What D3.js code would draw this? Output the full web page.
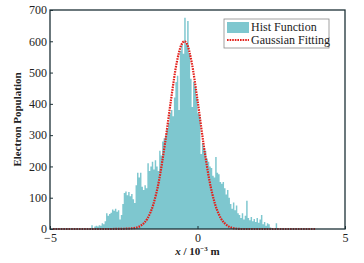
<!DOCTYPE html>
<html>
<head>
<meta charset="utf-8">
<script src="https://cdn.jsdelivr.net/npm/d3@7"></script>
<style>
  body { margin: 0; background: #fff; }
  svg text { font-family: "Liberation Serif", "Times New Roman", serif; }
</style>
</head>
<body>
<div id="chart"></div>
<script>
// histogram: bins of width 0.05, left edges start at binStart
const binStart = -3.6;
const binWidth = 0.05;
const histCounts = [
  12, 0, 8, 10, 8, 12, 10, 18, 15, 25,
  50, 42, 48, 52, 62, 58, 65, 55, 60, 30,
  45, 80, 115, 120, 108, 118, 105, 112, 95, 83,
  140, 180, 165, 180, 135, 125, 140, 130, 210, 185,
  200, 215, 190, 220, 200, 185, 250, 235, 280, 290,
  300, 320, 340, 370, 380, 360, 420, 470, 490, 380,
  570, 590, 560, 675, 590, 665, 560, 480, 390, 470,
  455, 420, 370, 360, 240, 275, 260, 250, 225, 215,
  200, 195, 170, 165, 230, 180, 175, 150, 145, 150,
  130, 110, 125, 100, 80, 65, 85, 60, 75, 50,
  45, 35, 50, 30, 42, 90, 35, 28, 38, 25,
  32, 22, 35, 20, 30, 45, 15, 22, 10, 18,
  15, 5, 3, 0, 0, 18, 3, 0, 2
];

// gaussian fitting curve
const fitX = [-4.9, -3.0, -2.4, -2.1, -1.9, -1.7, -1.5, -1.3, -1.1, -0.9, -0.7, -0.55, -0.45,
              -0.35, -0.2, 0.0, 0.2, 0.4, 0.6, 0.8, 1.0, 1.2, 1.5, 2.0, 4.0];
const fitY = [0, 0, 1, 4, 12, 33, 78, 157, 275, 412, 534, 588, 600,
              590, 534, 412, 275, 157, 78, 33, 12, 3, 0, 0, 0];

const xTicks = [-5, 0, 5];
const yTicks = [0, 100, 200, 300, 400, 500, 600, 700];
const legendLabels = ["Hist Function", "Gaussian Fitting"];

const width = 364, height = 263;
const margin = {top: 10, right: 19, bottom: 34, left: 50};

const x = d3.scaleLinear().domain([-5, 5]).range([margin.left, width - margin.right]);
const y = d3.scaleLinear().domain([0, 700]).range([height - margin.bottom, margin.top]);

const svg = d3.create("svg")
    .attr("width", width)
    .attr("height", height)
    .attr("viewBox", [0, 0, width, height]);

// bars drawn as one stepped area so neighbouring bins don't leave hairline gaps
const bins = histCounts.map((c, i) => ({x0: binStart + i * binWidth, c}));
bins.push({x0: binStart + histCounts.length * binWidth, c: 0});

const histArea = d3.area()
    .x(d => x(d.x0))
    .y0(y(0))
    .y1(d => y(d.c))
    .curve(d3.curveStepAfter);

svg.append("path")
    .datum(bins)
    .attr("fill", "#7ec7cf")
    .attr("d", histArea);

const line = d3.line()
    .x((d, i) => x(fitX[i]))
    .y(d => y(d))
    .curve(d3.curveMonotoneX);

svg.append("path")
    .datum(fitY)
    .attr("fill", "none")
    .attr("stroke", "#e3201b")
    .attr("stroke-width", 2.2)
    .attr("stroke-dasharray", "1.6,1")
    .attr("d", line);

// axes
const xAxis = g => g
    .attr("transform", `translate(0,${y(0)})`)
    .call(d3.axisBottom(x).tickValues(xTicks).tickSize(-3).tickPadding(4)
          .tickFormat(d => d < 0 ? "\u2212" + Math.abs(d) : d))
    .call(g => g.select(".domain").remove())
    .call(g => g.selectAll(".tick line").attr("stroke", "#1d3036"))
    .call(g => g.selectAll("text").attr("font-size", 12).attr("fill", "#222"));

const yAxis = g => g
    .attr("transform", `translate(${margin.left},0)`)
    .call(d3.axisLeft(y).tickValues(yTicks).tickSize(-3).tickPadding(3))
    .call(g => g.select(".domain").remove())
    .call(g => g.selectAll(".tick line").attr("stroke", "#1d3036"))
    .call(g => g.selectAll("text").attr("font-size", 12).attr("fill", "#222"));

svg.append("g").call(xAxis);
svg.append("g").call(yAxis);

svg.append("rect")
    .attr("x", margin.left)
    .attr("y", margin.top)
    .attr("width", width - margin.left - margin.right)
    .attr("height", height - margin.top - margin.bottom)
    .attr("fill", "none")
    .attr("stroke", "#1d3036")
    .attr("stroke-width", 1.3);

// titles
svg.append("text")
    .attr("transform", `translate(21,${(margin.top + height - margin.bottom) / 2}) rotate(-90)`)
    .attr("text-anchor", "middle")
    .attr("font-size", 11)
    .attr("font-weight", "bold")
    .attr("fill", "#222")
    .text("Electron Population");

const xt = svg.append("text")
    .attr("x", x(0))
    .attr("y", 255)
    .attr("text-anchor", "middle")
    .attr("font-size", 11)
    .attr("font-weight", "bold")
    .attr("fill", "#222");
xt.append("tspan").attr("font-style", "italic").text("x");
xt.append("tspan").text(" / 10");
xt.append("tspan").attr("dy", -4).attr("font-size", 7).text("\u22123");
xt.append("tspan").attr("dy", 4).text(" m");

// legend
const lg = svg.append("g").attr("transform", "translate(224,19)");
lg.append("rect")
    .attr("width", 105).attr("height", 29)
    .attr("fill", "#fff")
    .attr("stroke", "#8a8a8a")
    .attr("stroke-width", 0.8);
lg.append("rect")
    .attr("x", 3).attr("y", 3).attr("width", 22).attr("height", 11)
    .attr("fill", "#7ec7cf");
lg.append("line")
    .attr("x1", 3).attr("x2", 25).attr("y1", 21).attr("y2", 21)
    .attr("stroke", "#e3201b").attr("stroke-width", 2).attr("stroke-dasharray", "1.6,1");
lg.selectAll("text.lbl")
    .data(legendLabels)
    .join("text")
    .attr("class", "lbl")
    .attr("x", 27)
    .attr("y", (d, i) => 12 + i * 13)
    .attr("font-size", 12)
    .attr("fill", "#222")
    .text(d => d);

document.getElementById("chart").append(svg.node());
</script>
</body>
</html>
